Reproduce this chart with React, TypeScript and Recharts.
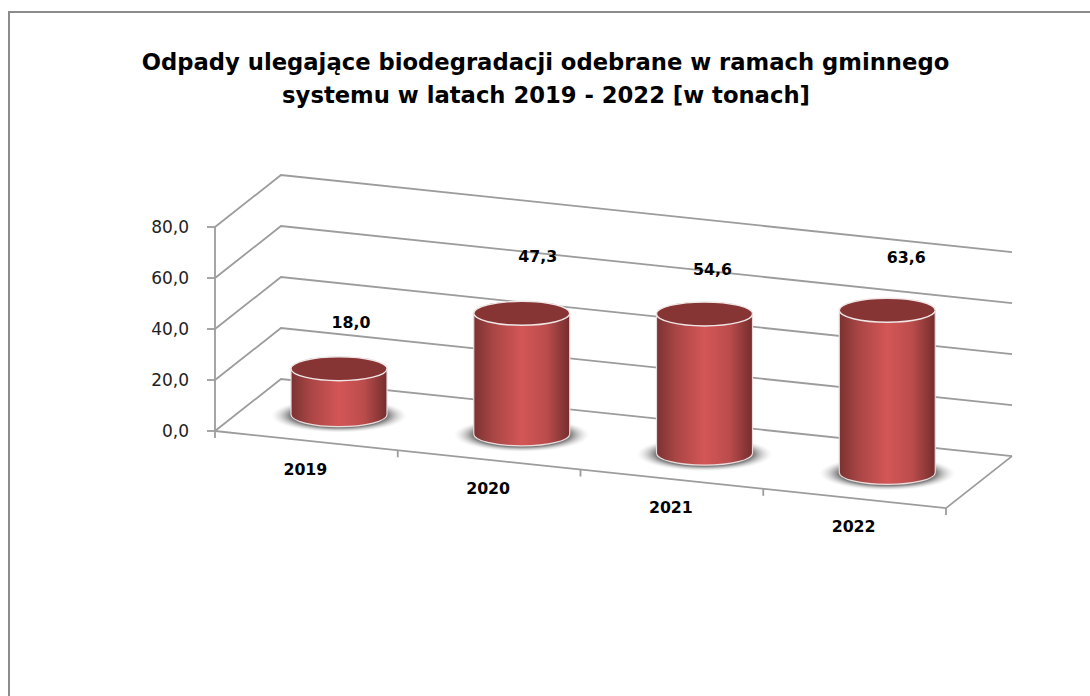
import React from "react";
import { BarChart, Bar, XAxis, YAxis, CartesianGrid, LabelList } from "recharts";

const years = ["2019", "2020", "2021", "2022"];
const tonnes = [18.0, 47.3, 54.6, 63.6];
const yTicks = [0, 20, 40, 60, 80];
const titleLines = [
  "Odpady ulegające biodegradacji odebrane w ramach gminnego",
  "systemu w latach 2019 - 2022 [w tonach]",
];

const rows = years.map((year, i) => ({ year, value: tonnes[i] }));

// Oblique projection of the 3D floor
const LEFT = 215;
const DEPTH_X = 66;
const DEPTH_Y = 52;
const SLOPE = 0.1055;
const FLOOR_W = 731;
const GRID = "#9c9c9c";
const FONT = "'DejaVu Sans', Verdana, sans-serif";
const skew = (x: number) => (x - LEFT) * SLOPE;
const labelNudge = [
  { dx: 12, dy: -41 },
  { dx: 16, dy: -51 },
  { dx: 8, dy: -39 },
  { dx: 19, dy: -47 },
];

function GridLine(props: any) {
  const { x1, y1, index } = props;
  const bx = x1 + DEPTH_X;
  const by = y1 - DEPTH_Y;
  const pts = `${x1},${y1} ${bx},${by} ${bx + FLOOR_W},${by + FLOOR_W * SLOPE}`;
  const isFloor = Math.abs(y1 - 431) < 1;
  return (
    <g key={`g-${index}-${y1}`}>
      <polyline points={pts} fill="none" stroke={GRID} strokeWidth={1.8} />
      {isFloor && (
        <polyline
          points={`${x1},${y1} ${x1 + FLOOR_W},${y1 + FLOOR_W * SLOPE} ${bx + FLOOR_W},${by + FLOOR_W * SLOPE}`}
          fill="none"
          stroke={GRID}
          strokeWidth={1.8}
        />
      )}
    </g>
  );
}

function YTick(props: any) {
  const { y, payload } = props;
  return (
    <g>
      <line x1={LEFT - 8} x2={LEFT} y1={y} y2={y} stroke={GRID} strokeWidth={1.8} />
      <text x={LEFT - 26} y={y + 6} textAnchor="end" fontFamily={FONT} fontSize={17} fill="#222">
        {payload.value.toFixed(1).replace(".", ",")}
      </text>
    </g>
  );
}

function XTick(props: any) {
  const { x, payload, index } = props;
  const band = FLOOR_W / years.length;
  const floorY = 431 + skew(x);
  const edge = x + band / 2;
  return (
    <g>
      <text x={x - 1} y={floorY + 34} textAnchor="middle" fontFamily={FONT} fontWeight="bold" fontSize={15.8} fill="#000">
        {payload.value}
      </text>
      <line x1={edge} x2={edge} y1={431 + skew(edge)} y2={431 + skew(edge) + 7} stroke={GRID} strokeWidth={1.8} />
      {index === 0 && <line x1={LEFT} x2={LEFT} y1={431} y2={438} stroke={GRID} strokeWidth={1.8} />}
    </g>
  );
}

function Cylinder(props: any) {
  const { x, y, width, height } = props;
  const cx = x + width / 2;
  const dx = DEPTH_X / 2;
  const dy = -DEPTH_Y / 2 + skew(cx);
  const c = cx + dx;
  const rx = width / 2;
  const ry = 12;
  const top = y + dy;
  const bottom = y + height + dy;
  const left = c - rx;
  const right = c + rx;
  return (
    <g>
      <ellipse cx={c} cy={bottom + 1} rx={rx + 20} ry={ry + 5} fill="url(#shadow)" />
      <path
        d={`M${left},${top} L${left},${bottom} A${rx},${ry} 0 0 0 ${right},${bottom} L${right},${top} Z`}
        fill="url(#side)"
        stroke="#e9dcdc"
        strokeWidth={1.2}
      />
      <ellipse cx={c} cy={top} rx={rx} ry={ry} fill="#873434" stroke="#f0e6e6" strokeWidth={1.4} />
    </g>
  );
}

function ValueLabel(props: any) {
  const { x, y, width, value, index } = props;
  const cx = x + width / 2;
  const n = labelNudge[index];
  const top = y - DEPTH_Y / 2 + skew(cx);
  return (
    <text
      x={cx + DEPTH_X / 2 + n.dx}
      y={top + n.dy}
      textAnchor="middle"
      fontFamily={FONT}
      fontWeight="bold"
      fontSize={15.8}
      fill="#000"
    >
      {Number(value).toFixed(1).replace(".", ",")}
    </text>
  );
}

export default function App() {
  return (
    <div style={{ position: "absolute", left: 0, top: 0, width: 1090, height: 696, background: "#fff", overflow: "hidden" }}>
      <div style={{ position: "absolute", left: 8, top: 11, width: 1082, height: 2, background: "#8c8c8c" }} />
      <div style={{ position: "absolute", left: 8, top: 11, width: 2, height: 685, background: "#8c8c8c" }} />
      <BarChart
        width={1090}
        height={696}
        data={rows}
        margin={{ top: 227, right: 144, bottom: 225, left: 155 }}
        style={{ position: "absolute", left: 0, top: 0 }}
      >
        <defs>
          <linearGradient id="side" x1="0" x2="1" y1="0" y2="0">
            <stop offset="0" stopColor="#7a3232" />
            <stop offset="0.2" stopColor="#a94545" />
            <stop offset="0.5" stopColor="#d45656" />
            <stop offset="0.76" stopColor="#bb4c4c" />
            <stop offset="1" stopColor="#742d2d" />
          </linearGradient>
          <radialGradient id="shadow">
            <stop offset="0" stopColor="#777" />
            <stop offset="0.72" stopColor="#808080" />
            <stop offset="1" stopColor="#ddd" stopOpacity={0} />
          </radialGradient>
        </defs>
        <text x={545.5} y={70} textAnchor="middle" fontFamily={FONT} fontWeight="bold" fontSize={22.7} fill="#000">
          {titleLines[0]}
        </text>
        <text x={546} y={103} textAnchor="middle" fontFamily={FONT} fontWeight="bold" fontSize={22.7} fill="#000">
          {titleLines[1]}
        </text>
        <CartesianGrid vertical={false} horizontal={GridLine as any} />
        <XAxis dataKey="year" height={40} axisLine={false} tickLine={false} tick={XTick as any} interval={0} />
        <YAxis
          domain={[0, 80]}
          ticks={yTicks}
          width={60}
          axisLine={{ stroke: GRID, strokeWidth: 1.8 }}
          tickLine={false}
          tick={YTick as any}
        />
        <Bar dataKey="value" barSize={96} shape={Cylinder as any} isAnimationActive={false}>
          <LabelList dataKey="value" content={ValueLabel as any} />
        </Bar>
      </BarChart>
    </div>
  );
}
